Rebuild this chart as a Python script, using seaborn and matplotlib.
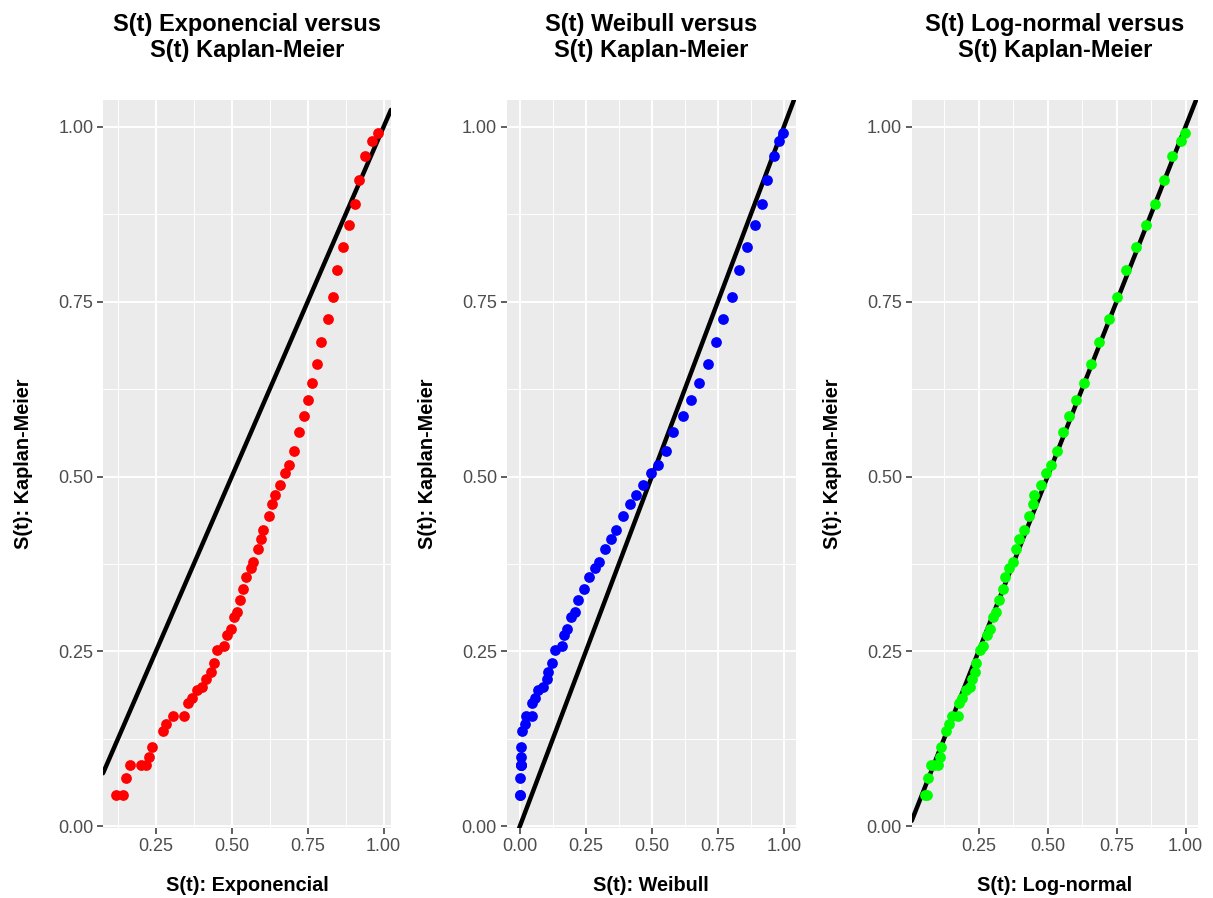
import matplotlib
matplotlib.use("Agg")
import matplotlib.pyplot as plt
from matplotlib.ticker import MultipleLocator, FormatStrFormatter
import seaborn as sns
import pandas as pd

# Kaplan-Meier survival (shared y values)
km = [0.045, 0.045, 0.069, 0.087, 0.087, 0.087, 0.099, 0.113, 0.136, 0.146,
      0.158, 0.158, 0.176, 0.183, 0.195, 0.199, 0.211, 0.221, 0.234, 0.252,
      0.258, 0.273, 0.282, 0.299, 0.307, 0.324, 0.339, 0.356, 0.369, 0.378,
      0.396, 0.411, 0.423, 0.444, 0.461, 0.473, 0.488, 0.505, 0.516, 0.536,
      0.564, 0.587, 0.609, 0.633, 0.661, 0.693, 0.725, 0.756, 0.795, 0.828,
      0.860, 0.889, 0.924, 0.958, 0.980, 0.991]

s_exp = [0.119, 0.141, 0.152, 0.166, 0.202, 0.219, 0.227, 0.238, 0.275, 0.285,
         0.308, 0.344, 0.357, 0.369, 0.385, 0.402, 0.415, 0.430, 0.441, 0.452,
         0.474, 0.485, 0.496, 0.507, 0.518, 0.526, 0.537, 0.546, 0.562, 0.570,
         0.585, 0.596, 0.603, 0.621, 0.634, 0.643, 0.659, 0.674, 0.690, 0.706,
         0.721, 0.737, 0.751, 0.765, 0.781, 0.795, 0.817, 0.832, 0.848, 0.867,
         0.887, 0.906, 0.920, 0.940, 0.961, 0.981]

s_weib = [0.000, 0.000, 0.000, 0.004, 0.004, 0.004, 0.006, 0.006, 0.009, 0.019,
          0.022, 0.045, 0.048, 0.057, 0.067, 0.089, 0.102, 0.108, 0.121, 0.134,
          0.159, 0.169, 0.178, 0.195, 0.210, 0.220, 0.242, 0.263, 0.286, 0.299,
          0.322, 0.347, 0.365, 0.391, 0.416, 0.439, 0.467, 0.496, 0.525, 0.553,
          0.581, 0.617, 0.649, 0.678, 0.712, 0.742, 0.770, 0.805, 0.831, 0.861,
          0.891, 0.916, 0.935, 0.961, 0.980, 0.996]

s_lnorm = [0.055, 0.062, 0.067, 0.079, 0.090, 0.103, 0.109, 0.115, 0.131, 0.143,
           0.155, 0.175, 0.179, 0.191, 0.205, 0.218, 0.227, 0.236, 0.242, 0.254,
           0.266, 0.280, 0.290, 0.302, 0.314, 0.323, 0.338, 0.347, 0.362, 0.374,
           0.386, 0.398, 0.416, 0.432, 0.446, 0.452, 0.476, 0.494, 0.512, 0.533,
           0.555, 0.579, 0.603, 0.633, 0.657, 0.687, 0.721, 0.753, 0.786, 0.819,
           0.855, 0.889, 0.922, 0.952, 0.982, 0.997]

panels = [
    ("S(t) Exponencial versus\nS(t) Kaplan-Meier", "S(t): Exponencial", s_exp, "#FF0000"),
    ("S(t) Weibull versus\nS(t) Kaplan-Meier", "S(t): Weibull", s_weib, "#0000FF"),
    ("S(t) Log-normal versus\nS(t) Kaplan-Meier", "S(t): Log-normal", s_lnorm, "#00FF00"),
]

sns.set_theme(style="darkgrid", rc={
    "axes.facecolor": "#EBEBEB",
    "grid.color": "white",
    "axes.edgecolor": "#EBEBEB",
    "axes.labelcolor": "black",
    "text.color": "black",
    "xtick.color": "#333333",
    "ytick.color": "#333333",
    "xtick.labelcolor": "#4D4D4D",
    "ytick.labelcolor": "#4D4D4D",
    "xtick.bottom": True,
    "ytick.left": True,
})
plt.rcParams["font.family"] = ["Liberation Sans", "DejaVu Sans"]

fig = plt.figure(figsize=(12.13, 8.98), dpi=100)
lefts = [0.0849, 0.4177, 0.7516]
widths = [0.2374, 0.2385, 0.2358]

for (title, xlab, xs, col), l, w in zip(panels, lefts, widths):
    ax = fig.add_axes([l, 0.078, w, 0.8107])
    df = pd.DataFrame({"x": xs, "y": km})
    ax.axline((0.5, 0.5), slope=1, color="black", linewidth=3.2, zorder=2)
    sns.scatterplot(data=df, x="x", y="y", color=col, s=60, linewidth=0,
                    ax=ax, zorder=3)
    ax.xaxis.set_major_locator(MultipleLocator(0.25))
    ax.yaxis.set_major_locator(MultipleLocator(0.25))
    ax.xaxis.set_minor_locator(MultipleLocator(0.125))
    ax.yaxis.set_minor_locator(MultipleLocator(0.125))
    ax.xaxis.set_major_formatter(FormatStrFormatter("%.2f"))
    ax.yaxis.set_major_formatter(FormatStrFormatter("%.2f"))
    ax.grid(which="major", color="white", linewidth=1.4)
    ax.grid(which="minor", color="white", linewidth=0.7)
    ax.tick_params(which="major", length=4, width=1.1, labelsize=13, pad=3)
    ax.tick_params(which="minor", length=0)
    for sp in ax.spines.values():
        sp.set_visible(False)
    ax.set_title(title, fontsize=17, fontweight="bold", pad=31, linespacing=1.15,
                 color="black")
    ax.set_xlabel(xlab, fontsize=14.3, fontweight="bold", labelpad=15)
    ax.set_ylabel("S(t): Kaplan-Meier", fontsize=14.3, fontweight="bold", labelpad=18)

fig.savefig("out.png", dpi=100)
